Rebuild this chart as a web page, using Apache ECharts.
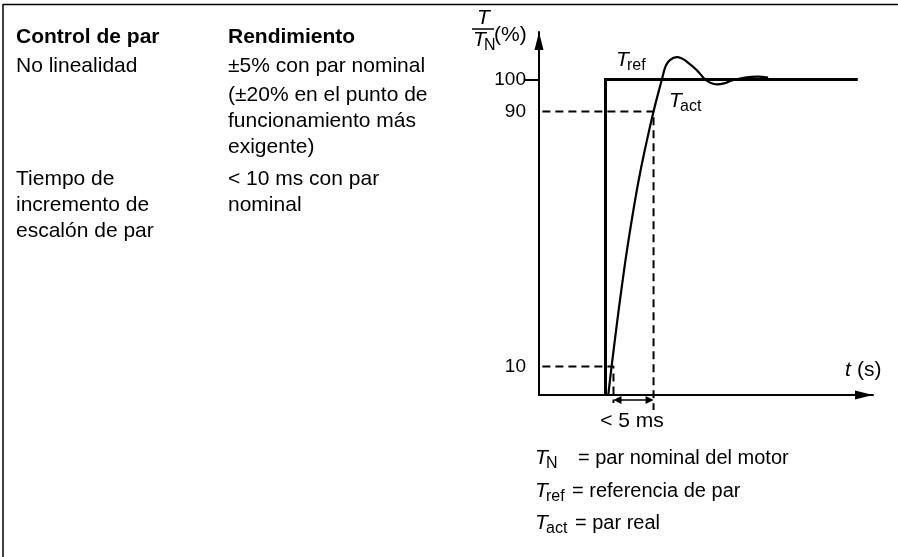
<!DOCTYPE html>
<html><head><meta charset="utf-8">
<script src="https://cdn.jsdelivr.net/npm/echarts@6/dist/echarts.min.js"></script>
<style>html,body{margin:0;padding:0;background:#fff}#c{width:898px;height:557px}</style>
</head><body><div id="c"></div>
<script>
// ---- data (time in ms, torque in % of T_N) ----
const refTime  = [0, 0, 31.5];
const refValue = [1.1, 100, 100];
const actTime  = [0.35, 0.76, 1.33, 1.98, 2.69, 3.49, 4.15, 4.91, 6.0, 7.04, 7.51, 8.04, 8.88, 9.54, 10.16, 11.38, 12.41, 13.16, 13.91, 14.79, 15.79, 17.4, 19.0, 20.3];
const actValue = [1.1, 10, 21.5, 34.0, 46.6, 59.1, 68.5, 77.9, 90, 100, 104.2, 106.1, 107, 106.6, 105.6, 103, 100.1, 98.9, 98.5, 98.8, 99.7, 100.6, 100.9, 100.6];
const yTickValues = [10, 90, 100];
const riseLow = 10, riseHigh = 90;      // % levels
const riseStart = 1, riseEnd = 6;       // ms at 10 % and 90 %

// ---- layout ----
const F = "'Liberation Sans', Arial, sans-serif";
const xMin = -8.3, xMax = 33.4, yMin = 1.1, yMax = 114.9;
const guideStart = -9.5;

const zip = (a, b) => a.map((v, i) => [v, b[i]]);
function T(x, y, s, o) {
  return {type: 'text', x: x, y: y, z: 10, silent: true,
    style: Object.assign({text: s, fill: '#000', fontFamily: F, fontSize: 21,
      verticalAlign: 'middle', textVerticalAlign: 'middle', align: 'left', textAlign: 'left'}, o || {})};
}
function sub(x, y, main, s) {
  return [T(x, y, main, {fontStyle: 'italic', fontSize: 21}),
          T(x + 11, y + 6, s, {fontSize: 16})];
}
const bold = {fontWeight: 'bold'};
const graphics = [
  {type: 'line', shape: {x1: 3, y1: 4.5, x2: 898, y2: 4.5}, style: {stroke: '#000', lineWidth: 1.5}},
  {type: 'line', shape: {x1: 3, y1: 4, x2: 3, y2: 557}, style: {stroke: '#000', lineWidth: 1.5}},
  T(16, 37, 'Control de par', bold), T(228, 37, 'Rendimiento', bold),
  T(16, 66, 'No linealidad'), T(228, 66, '±5% con par nominal'),
  T(228, 95, '(±20% en el punto de'), T(228, 121, 'funcionamiento más'), T(228, 147, 'exigente)'),
  T(16, 179, 'Tiempo de'), T(16, 205, 'incremento de'), T(16, 231, 'escalón de par'),
  T(228, 179, '< 10 ms con par'), T(228, 205, 'nominal'),
  // y axis title  T / T_N (%)
  T(477, 18, 'T', {fontStyle: 'italic'}),
  {type: 'line', shape: {x1: 472, y1: 29, x2: 494, y2: 29}, style: {stroke: '#000', lineWidth: 1.5}},
  ...sub(473, 40, 'T', 'N'),
  T(494, 35, '(%)'),
  // curve labels
  ...sub(616, 60, 'T', 'ref'),
  ...sub(669, 101, 'T', 'act'),
  T(845, 370, 't', {fontStyle: 'italic'}), T(857, 370, '(s)'),
  T(632, 421, '< 5 ms', {align: 'center', textAlign: 'center'}),
  // legend
  ...sub(535, 458, 'T', 'N'), T(578, 458, '= par nominal del motor', {fontSize: 20}),
  ...sub(535, 491, 'T', 'ref'), T(572, 491, '= referencia de par', {fontSize: 20}),
  ...sub(535, 523, 'T', 'act'), T(575, 523, '= par real', {fontSize: 20})
];

const chart = echarts.init(document.getElementById('c'));
const axisLineStyle = {color: '#000', width: 2};
chart.setOption({
  animation: false,
  grid: {left: 539, right: 25, top: 32, bottom: 162, containLabel: false},
  xAxis: {type: 'value', min: xMin, max: xMax,
    axisLine: {show: true, onZero: false, symbol: ['none', 'triangle'], symbolSize: [9, 18], symbolOffset: [0, -9], lineStyle: axisLineStyle},
    axisTick: {show: false}, axisLabel: {show: false}, splitLine: {show: false}},
  yAxis: [
    {type: 'value', min: yMin, max: yMax, position: 'left',
      axisLine: {show: true, onZero: false, symbol: ['none', 'triangle'], symbolSize: [9, 18], symbolOffset: [0, -9], lineStyle: axisLineStyle},
      axisTick: {show: true, length: 14, customValues: [100], lineStyle: {color: '#000', width: 2}},
      axisLabel: {show: true, customValues: yTickValues, margin: 13, color: '#000', fontSize: 19, fontFamily: F},
      splitLine: {show: false}},
    {type: 'value', min: yMin, max: yMax, position: 'left',
      axisLine: {show: false}, axisLabel: {show: false}, splitLine: {show: false},
      axisTick: {show: true, inside: true, length: 9, customValues: [100], lineStyle: {color: '#000', width: 2}}}
  ],
  series: [
    {type: 'line', data: zip(refTime, refValue), symbol: 'none', z: 3,
      lineStyle: {color: '#000', width: 3, join: 'miter', cap: 'butt'}},
    {type: 'line', data: zip(actTime, actValue), symbol: 'none', smooth: 0.4, z: 4,
      lineStyle: {color: '#000', width: 2.2}},
    {type: 'line', data: [[guideStart, riseHigh], [riseEnd, riseHigh], [riseEnd, -3.6]], symbol: 'none', clip: false, z: 2,
      lineStyle: {color: '#000', width: 2, type: [8, 5]}},
    {type: 'line', data: [[guideStart, riseLow], [riseStart, riseLow], [riseStart, -1.4]], symbol: 'none', clip: false, z: 2,
      lineStyle: {color: '#000', width: 2, type: [8, 5]}},
    {type: 'lines', coordinateSystem: 'cartesian2d', clip: false, z: 5,
      data: [{coords: [[riseStart + 0.5, -0.5], [riseEnd - 0.5, -0.5]]}],
      symbol: ['triangle', 'triangle'], symbolSize: 8,
      lineStyle: {color: '#000', width: 1.5, opacity: 1, curveness: 0}}
  ],
  graphic: graphics
});
</script></body></html>
